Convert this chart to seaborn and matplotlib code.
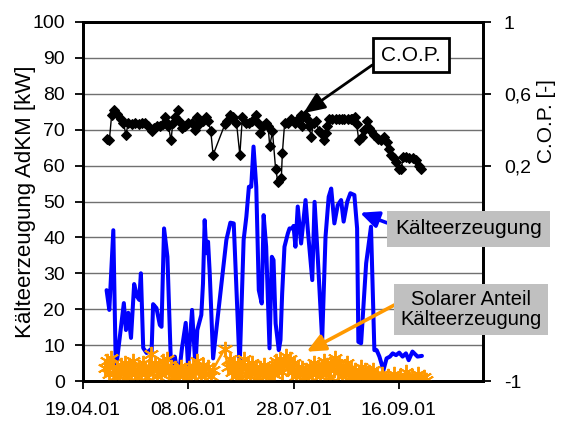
import numpy as np
import pandas as pd
import matplotlib
matplotlib.use("Agg")
import matplotlib.pyplot as plt
import seaborn as sns

# ---------------- data ----------------
start_date = "19.04.01"
axis_span_days = 190
x_tick_labels = ["19.04.01", "08.06.01", "28.07.01", "16.09.01"]
left_ticks = list(range(0, 101, 10))
right_ticks = [-1, -0.6, -0.2, 0.2, 0.6, 1]
# labels of -0,6 and -0,2 are hidden behind the annotation boxes in the original
right_tick_labels = ["-1", "", "", "0,2", "0,6", "1"]

# days after 19.04.01
kaelte_days = [11.2, 12.5, 14.4, 15.6, 19.4, 20.4, 21.5, 22.8, 24.3, 25.7, 26.7, 27.5, 28.6,
               30.2, 31.7, 32.5, 33.3, 34.9, 36.5, 37.3, 38.5, 40.1, 41.7, 42.8, 43.6, 44.7,
               46.0, 47.0, 48.8, 49.9, 51.8, 53.4, 54.3, 56.2, 57.0, 57.8, 58.6, 59.4, 60.2,
               61.8, 68.1, 70.0, 71.6, 74.4, 76.3, 77.6, 78.8, 79.9, 81.0, 82.3, 83.5, 84.9,
               85.8, 87.0, 88.6, 89.7, 90.5, 91.5, 93.0, 93.8, 94.6, 95.7, 97.3, 98.1, 99.4,
               100.0, 100.9, 102.0, 103.6, 105.7, 106.8, 108.9, 110.0, 111.5, 113.6, 115.2,
               116.7, 117.9, 119.4, 121.0, 122.6, 123.8, 125.5, 127.0, 128.9, 130.2, 130.8,
               132.1, 134.5, 136.8, 138.4, 139.5, 140.8, 142.7, 144.2, 145.8, 147.1, 148.7,
               150.2, 151.8, 153.4, 154.7, 156.5, 158.9, 161.0]
kaelte_kw = [25.3, 19.8, 42.0, 3.0, 21.7, 14.2, 19.0, 12.0, 27.0, 23.5, 22.6, 30.0, 9.2,
             7.8, 8.6, 6.8, 21.4, 20.3, 15.6, 15.1, 42.5, 34.6, 5.8, 4.9, 6.8, 3.0,
             4.0, 9.1, 16.2, 4.0, 19.8, 4.0, 14.2, 18.4, 27.2, 44.8, 35.6, 38.8, 30.0,
             6.3, 39.3, 44.1, 43.9, 4.0, 39.3, 45.8, 54.1, 54.1, 65.3, 54.1, 25.3, 21.6,
             46.2, 37.4, 9.1, 34.6, 33.7, 16.0, 8.6, 11.4, 24.4, 37.4, 41.1, 42.5, 42.5,
             43.2, 37.4, 48.6, 38.3, 50.4, 42.0, 28.1, 49.9, 34.6, 11.4, 40.2,
             51.3, 53.6, 43.9, 49.0, 50.4, 44.4, 49.9, 52.3, 51.8, 42.5, 10.9,
             10.5, 32.8, 43.0, 8.6, 8.6, 6.8, 3.0, 6.3, 6.8, 7.7, 7.2,
             7.9, 6.8, 7.7, 5.8, 8.2, 6.8, 7.0]

solar_days = [10.4, 11.4, 12.3, 13.3, 14.2, 15.2, 16.1, 17.1, 18.0, 19.0, 19.9, 20.9, 21.8,
              22.8, 23.7, 24.7, 25.6, 26.6, 27.5, 28.5, 29.4, 30.4, 31.3, 32.2, 33.2, 34.1,
              35.1, 36.0, 37.0, 37.9, 38.9, 39.8, 40.8, 41.7, 42.7, 43.6, 44.6, 45.5, 46.5,
              47.4, 48.4, 49.3, 50.2, 51.2, 52.1, 53.1, 54.0, 55.0, 55.9, 56.9, 57.8, 59.2,
              60.7, 61.6, 67.3, 68.7, 69.7, 70.6, 71.6, 72.5, 73.5, 74.4, 75.4, 76.3, 77.3,
              78.2, 79.2, 80.1, 81.1, 82.0, 83.0, 83.9, 84.8, 85.8, 86.7, 87.7, 88.6, 89.6,
              90.5, 91.5, 92.4, 93.4, 94.3, 95.3, 96.2, 97.2, 98.1, 99.1, 100.0, 101.0,
              101.9, 102.9, 103.8, 104.8, 105.7, 106.7, 107.6, 108.6, 109.5, 110.5, 111.4,
              112.4, 113.3, 114.3, 115.2, 116.1, 117.1, 118.0, 119.0, 119.9, 120.9, 121.8,
              122.8, 123.7, 124.7, 125.6, 126.6, 127.5, 128.4, 129.4, 130.3, 131.3, 132.2,
              133.2, 134.1, 135.1, 136.0, 137.0, 137.9, 138.9, 139.8, 140.8, 142.2, 143.6,
              145.0, 146.5, 147.9, 149.3, 150.7, 152.1, 153.6, 155.0, 156.4, 157.8, 159.3,
              160.7, 162.1, 163.0]
solar_kw = [3.5, 5.5, 2.0, 6.5, 4.0, 1.0, 3.5, 1.5, 4.5, 2.5, 5.0, 1.0, 4.5,
            2.0, 5.5, 3.0, 1.0, 4.0, 2.0, 5.0, 3.5, 1.0, 4.0, 7.5, 3.0, 5.0,
            1.5, 4.0, 2.0, 5.5, 3.0, 6.0, 2.5, 4.0, 1.0, 3.5, 0.5, 2.5, 4.0,
            1.5, 3.0, 0.5, 3.5, 1.5, 4.0, 2.5, 5.5, 3.0, 1.5, 4.5, 2.0, 4.0,
            1.5, 3.0, 9.0, 4.0, 6.0, 2.5, 5.0, 1.5, 4.5, 0.5, 3.5, 6.0, 2.0,
            4.5, 1.5, 5.0, 2.5, 4.0, 1.0, 3.5, 2.0, 4.5, 1.5, 3.0, 0.5, 4.0,
            2.0, 5.5, 3.0, 6.0, 2.5, 5.0, 7.0, 3.5, 6.0, 2.5, 5.0, 1.5,
            4.0, 2.0, 3.5, 1.0, 3.0, 1.5, 4.0, 2.0, 5.0, 2.5, 4.0,
            1.5, 3.0, 5.5, 2.0, 4.5, 1.0, 5.0, 3.0, 6.5, 2.5, 5.0,
            1.5, 4.0, 2.0, 5.0, 1.0, 3.5, 1.0, 3.0, 0.5, 2.5, 4.0,
            1.0, 3.0, 0.5, 2.5, 1.0, 3.0, 0.5, 2.0, 0.5, 2.0, 0.5,
            1.5, 0.3, 2.0, 0.5, 1.5, 0.3, 2.5, 0.5, 1.5, 0.3, 2.0,
            0.5, 1.0, 0.3]

cop_days = [11.5, 12.5, 13.6, 14.7, 16.0, 17.9, 19.2, 20.4, 21.5, 23.1, 24.8, 26.4, 28.0,
            29.5, 31.1, 32.7, 33.5, 35.1, 36.7, 37.9, 39.1, 39.9, 40.6, 41.8, 42.7, 43.8,
            44.9, 45.8, 47.0, 48.5, 50.1, 51.7, 53.2, 54.0, 55.2, 57.1, 58.4, 59.5, 60.7,
            61.8, 67.4, 68.5, 69.7, 71.3, 72.9, 74.5, 75.7, 77.3, 78.9, 80.5, 82.0, 83.1,
            84.3, 85.5, 86.8, 87.9, 88.7, 90.0, 91.5, 92.6, 94.2, 94.7, 95.8, 97.3, 98.9,
            100.5, 102.1, 103.4, 104.2, 105.3, 106.4, 107.3, 108.4, 109.5, 110.8, 112.0,
            113.2, 114.3, 115.2, 115.8, 116.8, 118.5, 120.0, 121.4, 122.8, 124.2, 125.7,
            127.1, 128.0, 129.4, 130.0, 131.0, 132.6, 133.7, 134.8, 135.7, 136.9, 138.4,
            140.0, 141.6, 143.2, 144.3, 145.2, 146.4, 147.5, 148.7, 150.0, 151.1, 152.2,
            153.5, 155.0, 156.6, 158.2, 159.4, 160.6]
cop_values = [0.35, 0.34, 0.48, 0.51, 0.49, 0.46, 0.44, 0.37, 0.44, 0.43, 0.44, 0.43, 0.44,
              0.44, 0.42, 0.39, 0.41, 0.42, 0.42, 0.43, 0.47, 0.44, 0.42, 0.34, 0.44, 0.47,
              0.51, 0.45, 0.41, 0.42, 0.44, 0.44, 0.40, 0.47, 0.43, 0.45, 0.47, 0.45, 0.39,
              0.26, 0.43, 0.45, 0.48, 0.47, 0.44, 0.26, 0.47, 0.44, 0.44, 0.45, 0.48, 0.44,
              0.38, 0.42, 0.44, 0.42, 0.31, 0.39, 0.18, 0.11, 0.13, 0.27, 0.44, 0.44, 0.46,
              0.44, 0.46, 0.48, 0.42, 0.48, 0.46, 0.42, 0.36, 0.44, 0.45, 0.39,
              0.38, 0.34, 0.38, 0.42, 0.46, 0.46, 0.46, 0.46, 0.46, 0.46, 0.46,
              0.46, 0.46, 0.47, 0.43, 0.34, 0.36, 0.40, 0.45, 0.41, 0.39, 0.37,
              0.35, 0.34, 0.36, 0.33, 0.29, 0.26, 0.24, 0.22, 0.18, 0.18, 0.25,
              0.25, 0.24, 0.24, 0.23, 0.20, 0.18]

# ---------------- style ----------------
sns.set_theme(style="white")
plt.rcParams["font.family"] = ["Liberation Sans", "DejaVu Sans"]

BLUE = "#0000FF"
ORANGE = "#FF9900"
GRAY_BOX = "#C0C0C0"

t0 = pd.to_datetime(start_date, format="%d.%m.%y")
def to_dates(days):
    return t0 + pd.to_timedelta(np.asarray(days, dtype=float), unit="D")

df_k = pd.DataFrame({"date": to_dates(kaelte_days), "kw": kaelte_kw})
df_s = pd.DataFrame({"date": to_dates(solar_days), "kw": solar_kw})
df_c = pd.DataFrame({"date": to_dates(cop_days), "cop": cop_values})

fig = plt.figure(figsize=(5.66, 4.25), dpi=100)
ax = fig.add_axes([83 / 566, 44 / 425, 400 / 566, 359 / 425])
ax2 = ax.twinx()

sns.lineplot(data=df_k, x="date", y="kw", ax=ax, color=BLUE, linewidth=2.9, zorder=3)
sns.lineplot(data=df_s, x="date", y="kw", ax=ax, color=ORANGE, linewidth=1.8,
             marker=(6, 2, 0), markersize=11, markeredgewidth=1.4,
             markeredgecolor=ORANGE, zorder=4)
sns.lineplot(data=df_c, x="date", y="cop", ax=ax2, color="black", linewidth=1.0,
             marker="D", markersize=5, markeredgecolor="black", zorder=3)

# axes limits & ticks
ax.set_xlim(t0, t0 + pd.Timedelta(days=axis_span_days))
ax.set_ylim(0, 100)
ax2.set_ylim(-1, 1)
ax.set_xticks(pd.to_datetime(x_tick_labels, format="%d.%m.%y"))
ax.set_xticklabels(x_tick_labels)
ax.set_yticks(left_ticks)
ax.set_yticklabels([str(v) for v in left_ticks])
ax2.set_yticks(right_ticks)
ax2.set_yticklabels(right_tick_labels)

ax.tick_params(axis="both", which="major", labelsize=14, length=6, width=1.3,
               color="black", direction="out", labelcolor="black")
ax.tick_params(axis="x", pad=9, bottom=True)
ax.tick_params(axis="y", pad=7, left=True)
ax2.tick_params(axis="y", labelsize=14, length=6, width=1.3, color="black",
                direction="out", pad=9, right=True, labelcolor="black")

ax.yaxis.grid(True, color="#707070", linewidth=1.0)
ax.xaxis.grid(False)
ax.set_axisbelow(True)

for a in (ax, ax2):
    for s in a.spines.values():
        s.set_color("black")
        s.set_linewidth(2.0)

ax.set_xlabel("")
ax.set_ylabel("Kälteerzeugung AdKM [kW]", fontsize=16, color="black")
ax.yaxis.set_label_coords(-0.118, 0.5)
ax2.set_ylabel("C.O.P. [-]", fontsize=15, color="black")
ax2.yaxis.set_label_coords(1.135, 0.725)

# ---------------- annotations ----------------
ax2.annotate("C.O.P.", xy=(0.551, 0.746), xycoords="axes fraction",
             xytext=(0.82, 0.908), textcoords="axes fraction",
             ha="center", va="center", fontsize=15, color="black", zorder=10,
             bbox=dict(boxstyle="square,pad=0.38", fc="white", ec="black", lw=2.0),
             arrowprops=dict(arrowstyle="-|>,head_length=1.3,head_width=0.55",
                             mutation_scale=10, color="black", lw=2.0,
                             relpos=(0.0, 0.3), shrinkA=0, shrinkB=0))

ax2.annotate("Kälteerzeugung", xy=(0.6925, 0.4688), xycoords="axes fraction",
             xytext=(0.964, 0.4234), textcoords="axes fraction",
             ha="center", va="center", fontsize=15, color="black", zorder=10,
             annotation_clip=False,
             bbox=dict(boxstyle="square,pad=0.4", fc=GRAY_BOX, ec="none"),
             arrowprops=dict(arrowstyle="-|>,head_length=1.1,head_width=0.5",
                             mutation_scale=10, color=BLUE, lw=2.6,
                             relpos=(0.0, 0.66), shrinkA=0, shrinkB=0))

ax2.annotate("Solarer Anteil\nKälteerzeugung", xy=(0.559, 0.0816), xycoords="axes fraction",
             xytext=(0.97, 0.199), textcoords="axes fraction",
             ha="center", va="center", fontsize=14.5, color="black", zorder=10,
             linespacing=1.05, annotation_clip=False,
             bbox=dict(boxstyle="square,pad=0.3", fc=GRAY_BOX, ec="none"),
             arrowprops=dict(arrowstyle="-|>,head_length=1.1,head_width=0.5",
                             mutation_scale=10, color=ORANGE, lw=2.6,
                             relpos=(0.0, 0.7), shrinkA=0, shrinkB=0))

fig.savefig("out.png", dpi=100)
